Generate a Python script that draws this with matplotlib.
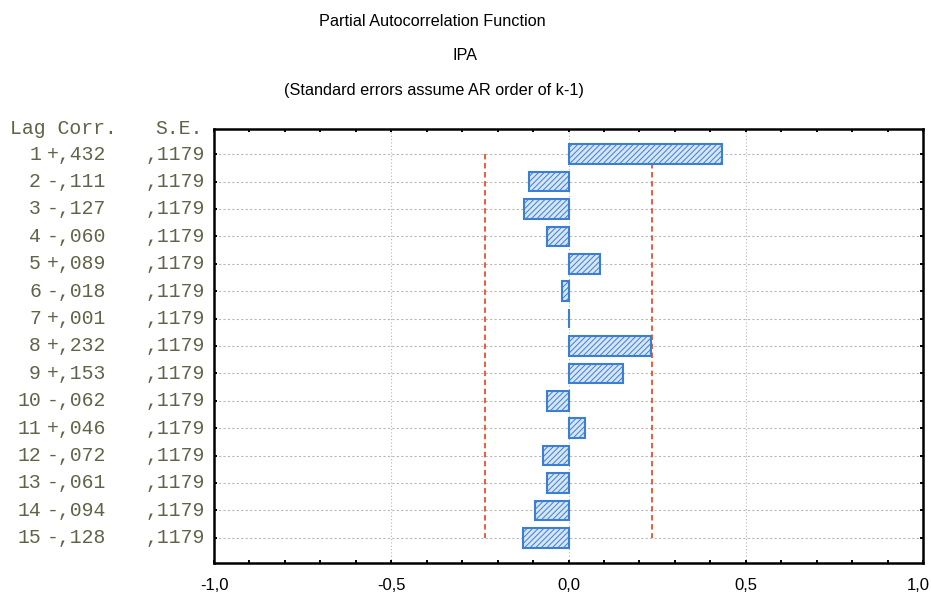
import matplotlib
matplotlib.use("Agg")

import numpy as np
import matplotlib.pyplot as plt
from matplotlib.transforms import blended_transform_factory, ScaledTranslation

lags = list(range(1, 16))
corr = [0.432, -0.111, -0.127, -0.060, 0.089, -0.018, 0.001, 0.232,
        0.153, -0.062, 0.046, -0.072, -0.061, -0.094, -0.128]
se = [0.1179] * 15
x_ticks = [-1.0, -0.5, 0.0, 0.5, 1.0]
x_labels = ["-1,0", "-0,5", "0,0", "0,5", "1,0"]

title = "Partial Autocorrelation Function"
subtitle = "IPA"
note = "(Standard errors assume AR order of k-1)"

plt.rcParams["font.family"] = ["Liberation Sans", "DejaVu Sans"]
bar_col = "#3b7fd4"
plt.rcParams["hatch.color"] = bar_col
plt.rcParams["hatch.linewidth"] = 0.7

fig = plt.figure(figsize=(9.31, 5.93), dpi=100)
ax = fig.add_axes([0.2299, 0.0506, 0.7616, 0.7319])

ax.barh(lags, corr, height=0.72, color="#d6e5f7", edgecolor=bar_col,
        hatch="//////", linewidth=1.5, zorder=3)

# confidence limits (2 * S.E.)
lim = 2 * np.array(se)
ax.plot(lim, lags, color="#e8502a", linestyle=(0, (3, 2)), linewidth=1.3, zorder=2)
ax.plot(-lim, lags, color="#e8502a", linestyle=(0, (3, 2)), linewidth=1.3, zorder=2)

ax.set_xlim(-1.0, 1.0)
ax.set_ylim(15.92, 0.08)
ax.set_xticks(x_ticks)
ax.set_xticklabels(x_labels, fontsize=12)
ax.set_xticks(np.arange(-1.0, 1.01, 0.1), minor=True)
ax.set_yticks(lags)
ax.set_yticklabels([])

ax.tick_params(axis="x", which="both", direction="in", top=True, bottom=True,
               length=2.5, width=1.4, pad=11)
ax.tick_params(axis="y", direction="in", left=True, right=True, length=2.5, width=1.4)

# last label sits a bit left of the frame edge
last = ax.get_xticklabels()[-1]
last.set_transform(last.get_transform() + ScaledTranslation(-5 / 100, 0, fig.dpi_scale_trans))

for y in lags:
    ax.axhline(y, color="#b8b8b8", linestyle=(0, (2, 2)), linewidth=0.8, zorder=1)
for x in [-0.5, 0.0, 0.5]:
    ax.axvline(x, color="#b8b8b8", linestyle=(0, (1, 2)), linewidth=0.8, zorder=1)

for s in ax.spines.values():
    s.set_linewidth(1.8)

# table on the left
tr = blended_transform_factory(fig.transFigure, ax.transData)
mono = "Liberation Mono"
tcol = "#62624a"
fs = 14.2
fig.text(10 / 931, 1 - 128 / 593, "Lag Corr.", family=mono, fontsize=fs,
         color=tcol, va="center", ha="left")
fig.text(155 / 931, 1 - 128 / 593, "S.E.", family=mono, fontsize=fs,
         color=tcol, va="center", ha="left")
for lag, c, s in zip(lags, corr, se):
    sign = "+" if c >= 0 else "-"
    cs = sign + f"{abs(c):.3f}".lstrip("0").replace(".", ",")
    ss = f"{s:.4f}".lstrip("0").replace(".", ",")
    ax.text(41 / 931, lag, str(lag), transform=tr, family=mono, fontsize=fs,
            color=tcol, va="center", ha="right")
    ax.text(47 / 931, lag, cs, transform=tr, family=mono, fontsize=fs,
            color=tcol, va="center", ha="left")
    ax.text(146 / 931, lag, ss, transform=tr, family=mono, fontsize=fs,
            color=tcol, va="center", ha="left")

fig.text(432 / 931, 1 - 22 / 593, title, fontsize=11.7, ha="center", va="center")
fig.text(465 / 931, 1 - 55 / 593, subtitle, fontsize=11.7, ha="center", va="center")
fig.text(434 / 931, 1 - 90 / 593, note, fontsize=11.7, ha="center", va="center")

fig.savefig("out.png", dpi=100)
